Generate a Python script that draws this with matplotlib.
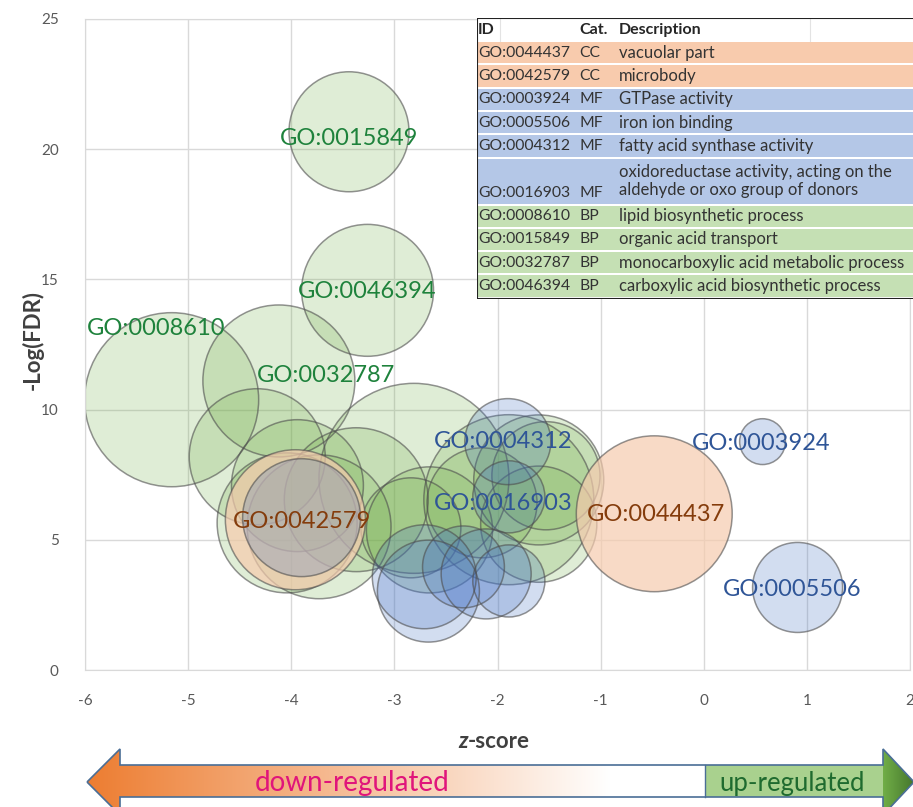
import numpy as np
import matplotlib.pyplot as plt
from matplotlib.patches import Polygon, Rectangle

plt.rcParams['font.family'] = ['Lato', 'DejaVu Sans']

# GO term bubbles: z-score, -log(FDR), gene count
bp_z = [-3.44, -3.26, -5.16, -4.12, -2.81, -4.33, -3.94, -4.04, -3.73, -3.37,
        -2.84, -2.66, -2.15, -1.53, -1.60, -1.60, -1.89]
bp_fdr = [20.67, 14.58, 10.38, 11.10, 7.36, 8.19, 7.08, 5.65, 5.50, 6.54,
          5.46, 5.38, 6.42, 7.46, 7.30, 5.60, 6.54]
bp_count = [144, 174, 303, 231, 361, 185, 174, 196, 207, 207,
            100, 159, 121, 117, 169, 135, 289]

mf_z = [-3.90, -2.71, -2.33, -2.11, -1.89, -2.67, -1.90, -1.89, 0.57, 0.91]
mf_fdr = [5.85, 3.58, 3.96, 3.69, 3.42, 3.03, 8.77, 6.65, 8.77, 3.17]
mf_count = [139, 108, 67, 81, 52, 104, 74, 52, 21, 81]

cc_z = [-0.48, -3.96]
cc_fdr = [6.00, 5.77]
cc_count = [243, 196]

# labelled terms
label_ids = ['GO:0015849', 'GO:0046394', 'GO:0008610', 'GO:0032787', 'GO:0042579',
             'GO:0044437', 'GO:0004312', 'GO:0016903', 'GO:0003924', 'GO:0005506']
label_cats = ['BP', 'BP', 'BP', 'BP', 'CC', 'CC', 'MF', 'MF', 'MF', 'MF']
label_x = [-3.44, -3.26, -5.31, -3.66, -3.90, -0.46, -1.95, -1.94, 0.56, 0.86]
label_y = [20.5, 14.6, 13.2, 11.4, 5.77, 6.04, 8.85, 6.46, 8.77, 3.17]

# summary table
table_ids = ['GO:0044437', 'GO:0042579', 'GO:0003924', 'GO:0005506', 'GO:0004312',
             'GO:0016903', 'GO:0008610', 'GO:0015849', 'GO:0032787', 'GO:0046394']
table_cats = ['CC', 'CC', 'MF', 'MF', 'MF', 'MF', 'BP', 'BP', 'BP', 'BP']
table_desc = ['vacuolar part', 'microbody', 'GTPase activity', 'iron ion binding',
              'fatty acid synthase activity',
              'oxidoreductase activity, acting on the\naldehyde or oxo group of donors',
              'lipid biosynthetic process', 'organic acid transport',
              'monocarboxylic acid metabolic process',
              'carboxylic acid biosynthetic process']

x_ticks = [-6, -5, -4, -3, -2, -1, 0, 1, 2]
y_ticks = [0, 5, 10, 15, 20, 25]

fill = {'BP': '#70AD47', 'MF': '#4472C4', 'CC': '#F6CBAE'}
fill_alpha = {'BP': 0.22, 'MF': 0.24, 'CC': 0.7}
text_col = {'BP': '#1E823C', 'MF': '#2F5597', 'CC': '#843C0C'}
row_col = {'CC': '#F8CBAD', 'MF': '#B4C7E7', 'BP': '#C5E0B4'}
SIZE_SCALE = 51.84  # points^2 per gene

fig = plt.figure(figsize=(9.13, 8.07), dpi=100)
W, H = 913, 807
ax = fig.add_axes([85 / W, 137 / H, 825 / W, 651 / H])

# series order: BP, CC, MF
for z, f, n, cat in [(bp_z, bp_fdr, bp_count, 'BP'),
                     (cc_z, cc_fdr, cc_count, 'CC'),
                     (mf_z, mf_fdr, mf_count, 'MF')]:
    ax.scatter(z, f, s=np.array(n) * SIZE_SCALE, c=fill[cat], alpha=fill_alpha[cat],
               edgecolors='none', zorder=2)
    ax.scatter(z, f, s=np.array(n) * SIZE_SCALE, facecolors='none',
               edgecolors=(0.3, 0.3, 0.3, 0.6), linewidths=1.1, zorder=2)

for lid, cat, lx, ly in zip(label_ids, label_cats, label_x, label_y):
    ax.text(lx, ly, lid, color=text_col[cat], fontsize=17, ha='center',
            va='center_baseline', zorder=5)

ax.set_xlim(-6, 2)
ax.set_ylim(0, 25)
ax.set_xticks(x_ticks)
ax.set_xticklabels([str(t) for t in x_ticks])
ax.set_yticks(y_ticks)
ax.grid(True, color='#D9D9D9', linewidth=1)
ax.set_axisbelow(True)
for sp in ax.spines.values():
    sp.set_color('#D9D9D9')
ax.tick_params(length=0, labelsize=11, labelcolor='#595959')
ax.tick_params(axis='x', pad=17)
ax.tick_params(axis='y', pad=19)

fig.text(33 / W, 1 - 340 / H, '-Log(FDR)', rotation=90, fontsize=16,
         fontweight='bold', color='#404040', ha='center', va='center')
fig.text(468 / W, 1 - 741 / H, 'z', fontsize=16, fontweight='bold',
         fontstyle='italic', color='#404040', ha='right', va='center')
fig.text(468 / W, 1 - 741 / H, '-score', fontsize=16, fontweight='bold',
         color='#404040', ha='left', va='center')

# table in the top right corner, drawn in pixel units
tx0, ty0, tw, th = 477, 18, 436, 281
tab = fig.add_axes([tx0 / W, 1 - (ty0 + th) / H, tw / W, th / H])
tab.set_xlim(0, tw)
tab.set_ylim(th, 0)
tab.axis('off')
tab.add_patch(Rectangle((0, 0), tw, th, facecolor='white', edgecolor='none'))
heights = [23] + [47 if '\n' in d else 23.3 for d in table_desc]
col_x = [1, 102, 142]
for cx, head in zip(col_x, ['ID', 'Cat.', 'Description']):
    tab.text(cx, heights[0] / 2, head, fontsize=11.5, fontweight='bold',
             color='#262626', va='center')
for gx in [23, 333]:
    tab.plot([gx, gx], [0, heights[0]], color='#E3E3E3', lw=0.8)
y = heights[0]
for gid, cat, desc, h in zip(table_ids, table_cats, table_desc, heights[1:]):
    tab.add_patch(Rectangle((0, y + 1), tw, h - 2, facecolor=row_col[cat],
                            edgecolor='none'))
    yc = y + h / 2
    yb = y + h * 0.75 if h > 30 else yc
    tab.text(col_x[0], yb, gid, fontsize=11.3, color='#333333', va='center')
    tab.text(col_x[1], yb, cat, fontsize=11.3, color='#333333', va='center')
    tab.text(col_x[2], yc, desc, fontsize=12, color='#333333', va='center',
             linespacing=1.2)
    y += h
tab.plot([0, 0, tw], [th, 0, 0], color='#222222', lw=1.5)
tab.plot([0, tw], [th, th], color='#222222', lw=1.5)

# direction arrow under the x axis
arr = fig.add_axes([0, 0, 1, 80 / H])
arr.set_xlim(0, W)
arr.set_ylim(H, H - 80)
arr.axis('off')
tip_y = 782
shape = Polygon([(87, tip_y), (120, 749), (120, 765), (883, 765), (883, 749),
                 (914, tip_y), (883, 815), (883, 797), (120, 797), (120, 815)],
                closed=True, facecolor='none', edgecolor='#4A6E96', lw=1.2, zorder=4)
arr.add_patch(shape)
xs = np.arange(W)
orange = np.array([237, 125, 49]) / 255
light_green = np.array([169, 209, 142]) / 255
mid_green = np.array([112, 173, 71]) / 255
dark_green = np.array([70, 120, 45]) / 255
grad = np.ones((W, 3))
for i in xs:
    if i < 705:
        t = np.clip((i - 87) / (610 - 87), 0, 1)
        grad[i] = orange * (1 - t) + np.ones(3) * t
    elif i < 883:
        grad[i] = light_green
    else:
        t = (i - 883) / 30
        grad[i] = mid_green * (1 - t) + dark_green * t
img = np.tile(grad[None, :, :], (2, 1, 1))
im = arr.imshow(img, extent=[0, W, H, H - 80], aspect='auto', zorder=1)
im.set_clip_path(shape)
arr.plot([705, 705], [765, 797], color='#4A6E96', lw=1.0, zorder=5)
arr.set_xlim(0, W)
arr.set_ylim(H, H - 80)
arr.text(352, 783, 'down-regulated', fontsize=20, color='#E0157B',
         ha='center', va='center', zorder=6)
arr.text(792, 783, 'up-regulated', fontsize=18.5, color='#1F6B2F',
         ha='center', va='center', zorder=6)

fig.savefig('out.png', dpi=100)
